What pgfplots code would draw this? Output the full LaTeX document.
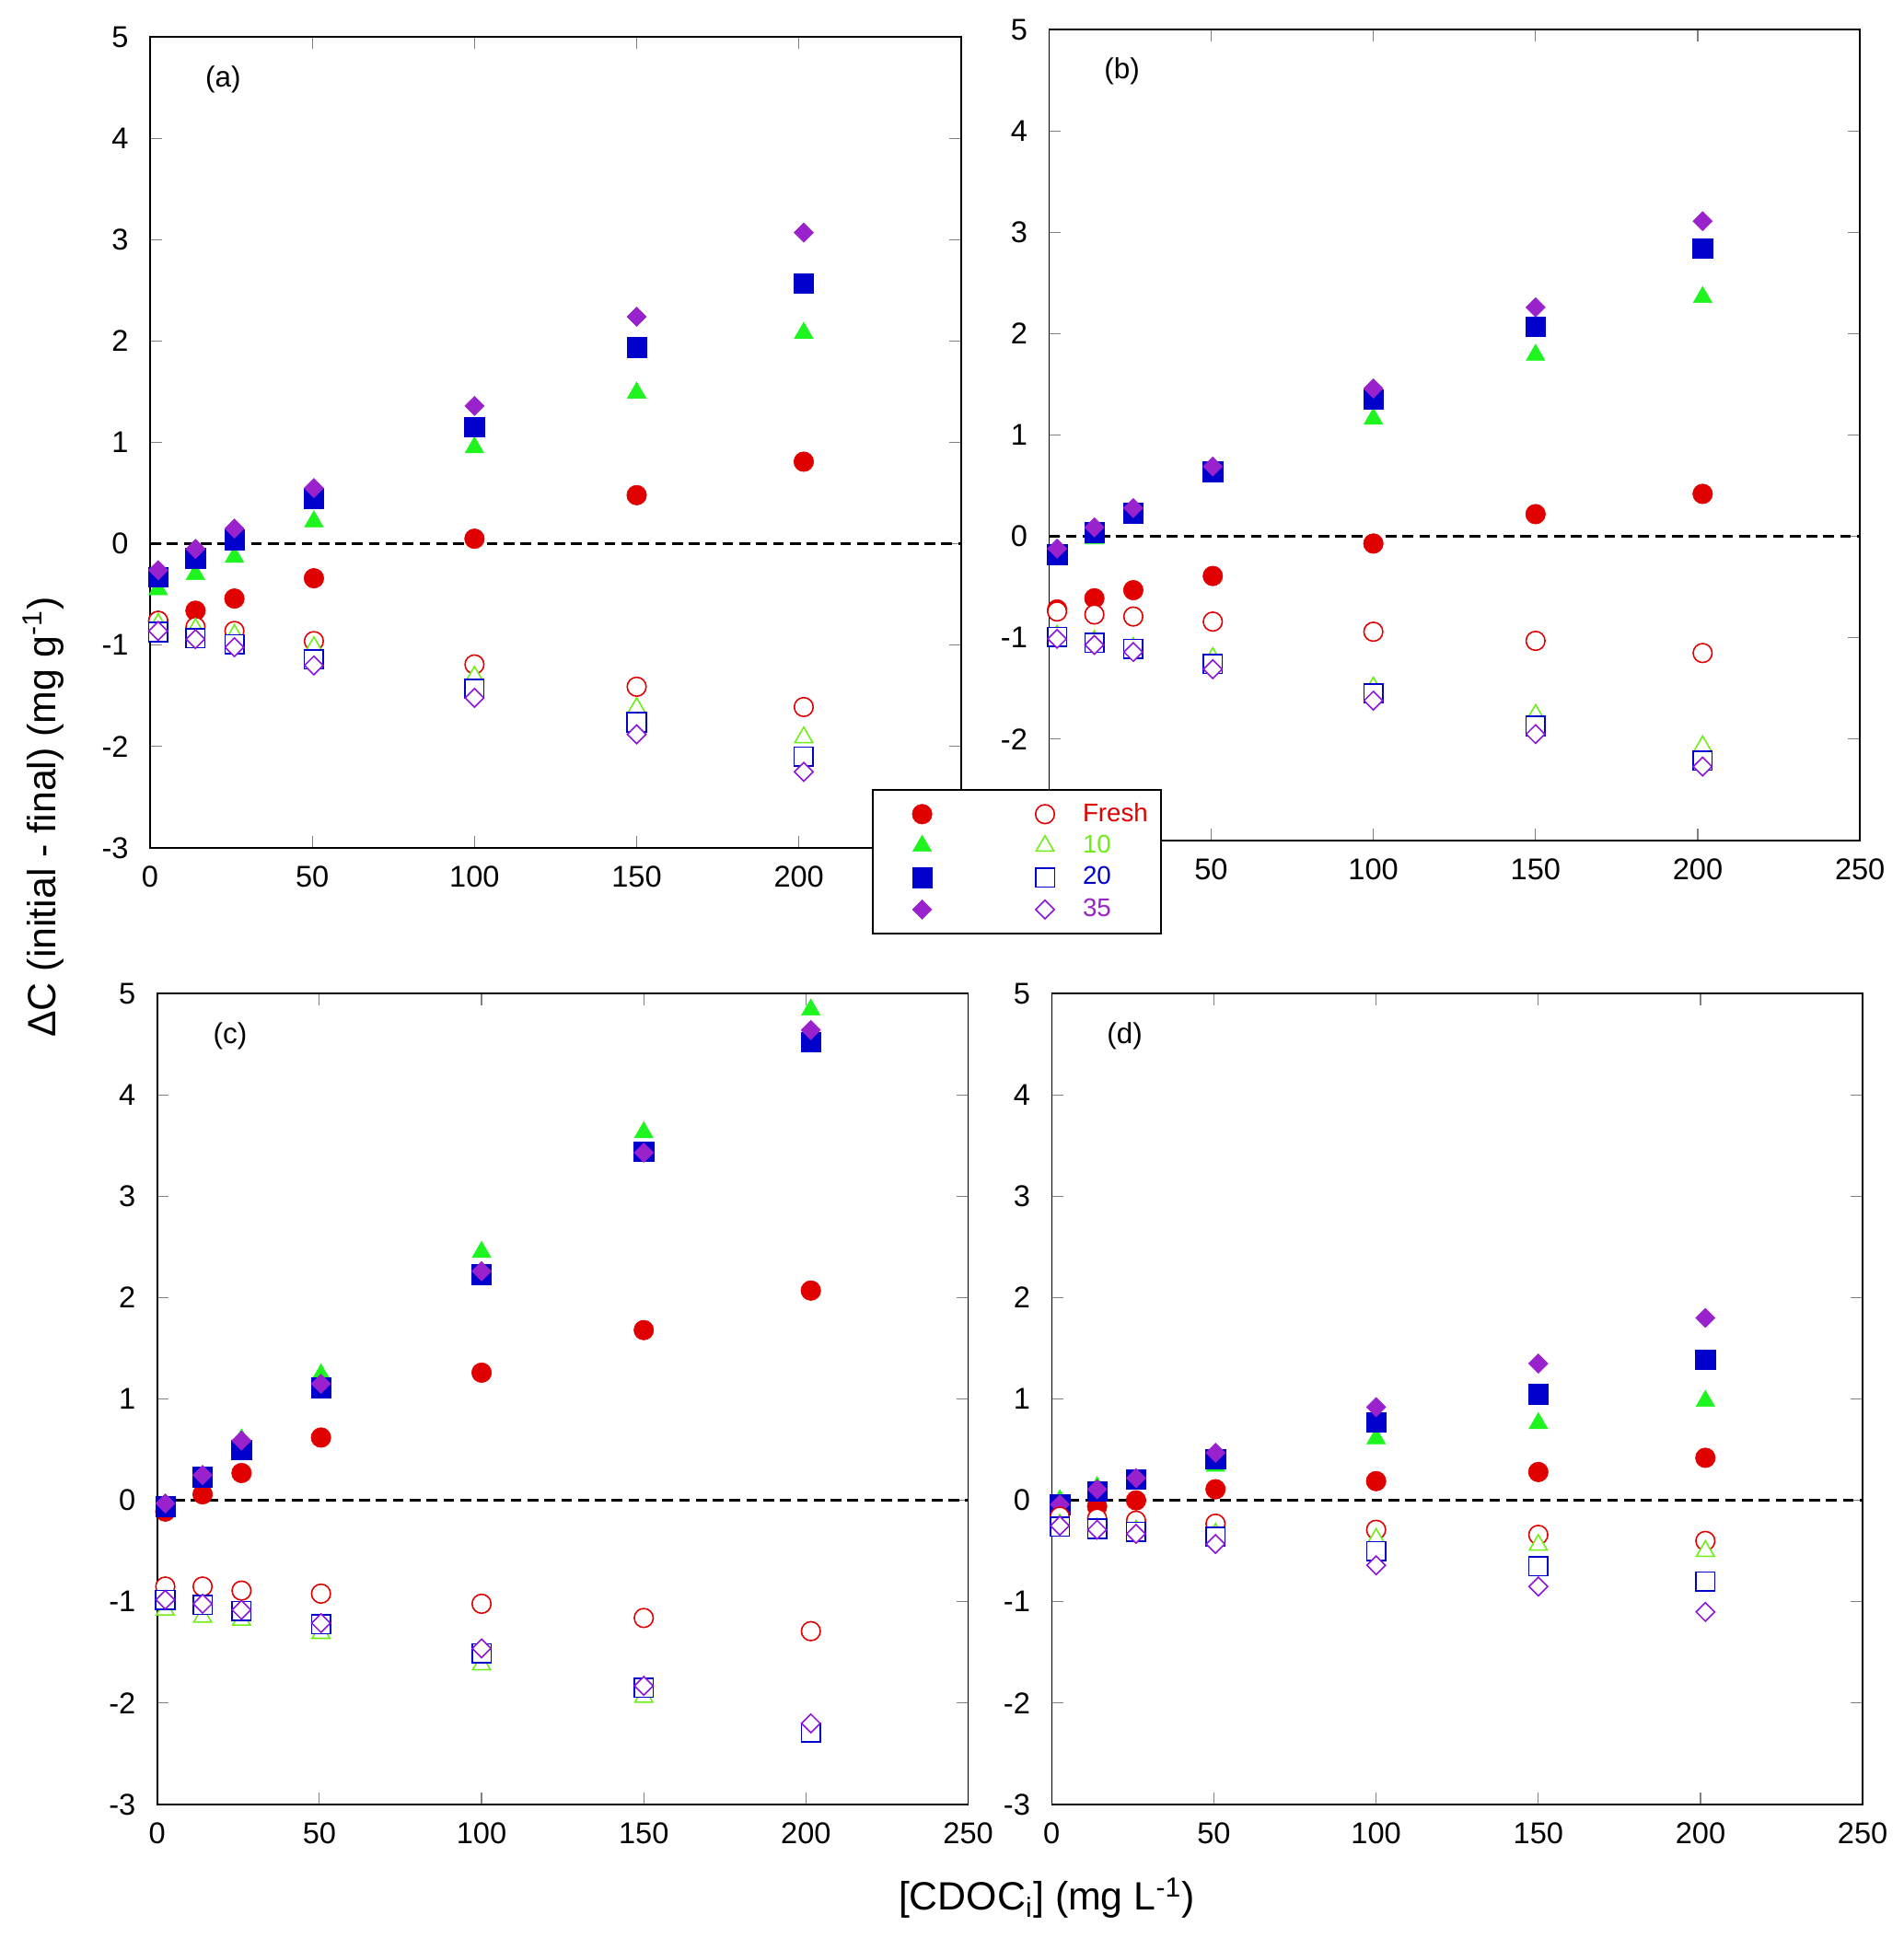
\documentclass[border=0pt]{standalone}
\usepackage{fontspec}
\setmainfont{Liberation Sans}
\usepackage{pgfplots}
\pgfplotsset{compat=1.18}
\usepackage{pgfplotstable}

\definecolor{cred}{RGB}{224,0,0}
\definecolor{cgreen}{RGB}{30,245,30}
\definecolor{cgreenL}{RGB}{110,238,20}
\definecolor{cblue}{RGB}{0,0,205}
\definecolor{cpurple}{RGB}{153,34,204}
\definecolor{cpurpleL}{RGB}{140,20,220}
\definecolor{tickgray}{RGB}{128,128,128}

\pgfplotstableread{
x      fF     f10    f20    f35    oF     o10    o20    o35
2.5   -0.76  -0.45  -0.33  -0.26  -0.76  -0.79  -0.87  -0.86
14    -0.66  -0.30  -0.14  -0.05  -0.82  -0.84  -0.93  -0.94
26    -0.54  -0.13   0.04   0.15  -0.86  -0.90  -0.99  -1.02
50.5  -0.34   0.22   0.45   0.55  -0.96  -1.02  -1.14  -1.20
100    0.05   0.95   1.15   1.36  -1.19  -1.31  -1.43  -1.52
150    0.48   1.49   1.94   2.24  -1.41  -1.62  -1.76  -1.88
201.5  0.81   2.08   2.57   3.07  -1.61  -1.91  -2.10  -2.25
}\tabA

\pgfplotstableread{
x      fF     f10    f20    f35    oF     o10    o20    o35
2.5   -0.72  -0.20  -0.18  -0.12  -0.74  -0.98  -0.99  -1.01
14    -0.61  -0.02   0.04   0.09  -0.77  -1.03  -1.05  -1.07
26    -0.53   0.22   0.23   0.28  -0.79  -1.10  -1.11  -1.14
50.5  -0.39   0.60   0.64   0.69  -0.84  -1.20  -1.26  -1.31
100   -0.07   1.16   1.35   1.46  -0.94  -1.49  -1.55  -1.62
150    0.22   1.79   2.07   2.26  -1.03  -1.76  -1.87  -1.95
201.5  0.42   2.36   2.84   3.11  -1.15  -2.07  -2.21  -2.27
}\tabB

\pgfplotstableread{
x      fF     f10    f20    f35    oF     o10    o20    o35
2.5   -0.11  -0.05  -0.06  -0.03  -0.85  -1.08  -0.98  -0.98
14     0.06   0.24   0.23   0.25  -0.85  -1.15  -1.03  -1.02
26     0.27   0.60   0.50   0.59  -0.89  -1.18  -1.09  -1.08
50.5   0.62   1.24   1.11   1.15  -0.92  -1.31  -1.22  -1.21
100    1.26   2.45   2.23   2.26  -1.02  -1.62  -1.51  -1.46
150    1.68   3.63   3.44   3.43  -1.16  -1.94  -1.85  -1.83
201.5  2.07   4.84   4.52   4.64  -1.29  -2.33  -2.29  -2.20
}\tabC

\pgfplotstableread{
x      fF     f10    f20    f35    oF     o10    o20    o35
2.5   -0.10   0.00  -0.04  -0.04  -0.16  -0.24  -0.26  -0.25
14    -0.06   0.13   0.09   0.11  -0.18  -0.28  -0.28  -0.29
26     0.00   0.20   0.21   0.22  -0.20  -0.30  -0.31  -0.33
50.5   0.11   0.34   0.41   0.47  -0.23  -0.33  -0.36  -0.43
100    0.19   0.61   0.77   0.92  -0.29  -0.38  -0.50  -0.64
150    0.28   0.76   1.05   1.35  -0.34  -0.44  -0.65  -0.85
201.5  0.42   0.98   1.39   1.80  -0.40  -0.50  -0.80  -1.10
}\tabD

\pgfplotsset{
  fC/.style={only marks, mark=*, mark size=3.75pt, mark options={draw=cred, fill=cred, line width=0.2pt}},
  fT/.style={only marks, mark=triangle*, mark size=4.1pt, mark options={draw=cgreen, fill=cgreen, line width=0.2pt}},
  fS/.style={only marks, mark=square*, mark size=3.75pt, mark options={draw=cblue, fill=cblue, line width=0.2pt}},
  fD/.style={only marks, mark=square*, mark size=2.6pt, mark options={rotate=45, draw=cpurple, fill=cpurple, line width=0.2pt}},
  oC/.style={only marks, mark=*, mark size=3.6pt, mark options={draw=cred, fill=white, line width=0.55pt}},
  oT/.style={only marks, mark=triangle*, mark size=3.9pt, mark options={draw=cgreenL, fill=white, line width=0.55pt}},
  oS/.style={only marks, mark=square*, mark size=3.6pt, mark options={draw=cblue, fill=white, line width=0.55pt}},
  oD/.style={only marks, mark=square*, mark size=2.5pt, mark options={rotate=45, draw=cpurpleL, fill=white, line width=0.55pt}},
  zeroline/.style={black, line width=1.2pt, dash pattern=on 4.1pt off 2.3pt, forget plot},
  panel/.style={
    scale only axis, width=308.3pt, height=308.3pt,
    xmin=0, xmax=250, ymin=-3, ymax=5,
    xtick={0,50,...,250}, ytick={-3,-2,...,5},
    tick align=inside,
    major tick length=4.45pt,
    tick style={draw=tickgray, line width=0.4pt},
    axis line style={line width=0.55pt},
    tick label style={font=\fontsize{11.4}{13}\selectfont, inner sep=0pt},
    xticklabel shift=6.7pt, yticklabel shift=8pt,
    /pgf/number format/assume math mode=true,
  },
}

\newcommand{\panelplots}[1]{%
  \addplot[zeroline] coordinates {(0,0) (250,0)};
  \addplot[fC, forget plot] table[x=x,y=fF]{#1};
  \addplot[fT, forget plot] table[x=x,y=f10]{#1};
  \addplot[fS, forget plot] table[x=x,y=f20]{#1};
  \addplot[fD, forget plot] table[x=x,y=f35]{#1};
  \addplot[oC, forget plot] table[x=x,y=oF]{#1};
  \addplot[oT, forget plot] table[x=x,y=o10]{#1};
  \addplot[oS, forget plot] table[x=x,y=o20]{#1};
  \addplot[oD, forget plot] table[x=x,y=o35]{#1};
}

\begin{document}
\begin{tikzpicture}
\useasboundingbox (0,0) rectangle (723.45pt,736.75pt);

% (a)
\begin{axis}[panel, at={(57.05pt,414.4pt)}, anchor=south west]
\panelplots{\tabA}
\node[font=\fontsize{11}{13}\selectfont] at (rel axis cs:0.09,0.948) {(a)};
\end{axis}

% (c)
\begin{axis}[panel, at={(59.75pt,50.75pt)}, anchor=south west]
\panelplots{\tabC}
\node[font=\fontsize{11}{13}\selectfont] at (rel axis cs:0.09,0.948) {(c)};
\end{axis}

% (d)
\begin{axis}[panel, at={(399.8pt,50.75pt)}, anchor=south west]
\panelplots{\tabD}
\node[font=\fontsize{11}{13}\selectfont] at (rel axis cs:0.09,0.948) {(d)};
\end{axis}

% (b) with legend
\begin{axis}[panel, at={(398.76pt,417.2pt)}, anchor=south west,
  legend columns=2,
  legend cell align=left,
  legend image code/.code={\path[draw=none, fill=none] (-14.1pt,-6.04pt) rectangle (5pt,6.04pt); \draw[#1] plot coordinates {(0pt,0pt)};},
  legend style={at={(-0.2188,0.0632)}, anchor=north west,
    draw=black, line width=0.7pt, fill=white,
    inner xsep=4.8pt, inner ysep=3.06pt,
    row sep=0pt, column sep=0pt,
    nodes={inner sep=0pt, outer sep=0pt, draw=none, fill=none},
    font=\fontsize{9.7}{11}\selectfont},
]
\addlegendimage{fC}\addlegendentry{\hspace*{27.6pt}}
\addlegendimage{oC}\addlegendentry{\hspace*{9.35pt}\textcolor{cred}{Fresh}}
\addlegendimage{fT}\addlegendentry{\hspace*{27.6pt}}
\addlegendimage{oT}\addlegendentry{\hspace*{9.35pt}\textcolor{cgreenL}{10}}
\addlegendimage{fS}\addlegendentry{\hspace*{27.6pt}}
\addlegendimage{oS}\addlegendentry{\hspace*{9.35pt}\textcolor{cblue}{20}}
\addlegendimage{fD}\addlegendentry{\hspace*{27.6pt}}
\addlegendimage{oD}\addlegendentry{\hspace*{9.35pt}\textcolor{cpurple}{35}}
\panelplots{\tabB}
\node[font=\fontsize{11}{13}\selectfont] at (rel axis cs:0.09,0.949) {(b)};
\end{axis}

\node[rotate=90, anchor=base, font=\fontsize{15}{18}\selectfont] at (21pt,426.1pt) {ΔC (initial - final) (mg g\textsuperscript{-1})};
\node[anchor=base, font=\fontsize{15}{18}\selectfont] at (397.95pt,10.5pt) {[CDOC\textsubscript{i}] (mg L\textsuperscript{-1})};
\end{tikzpicture}
\end{document}
